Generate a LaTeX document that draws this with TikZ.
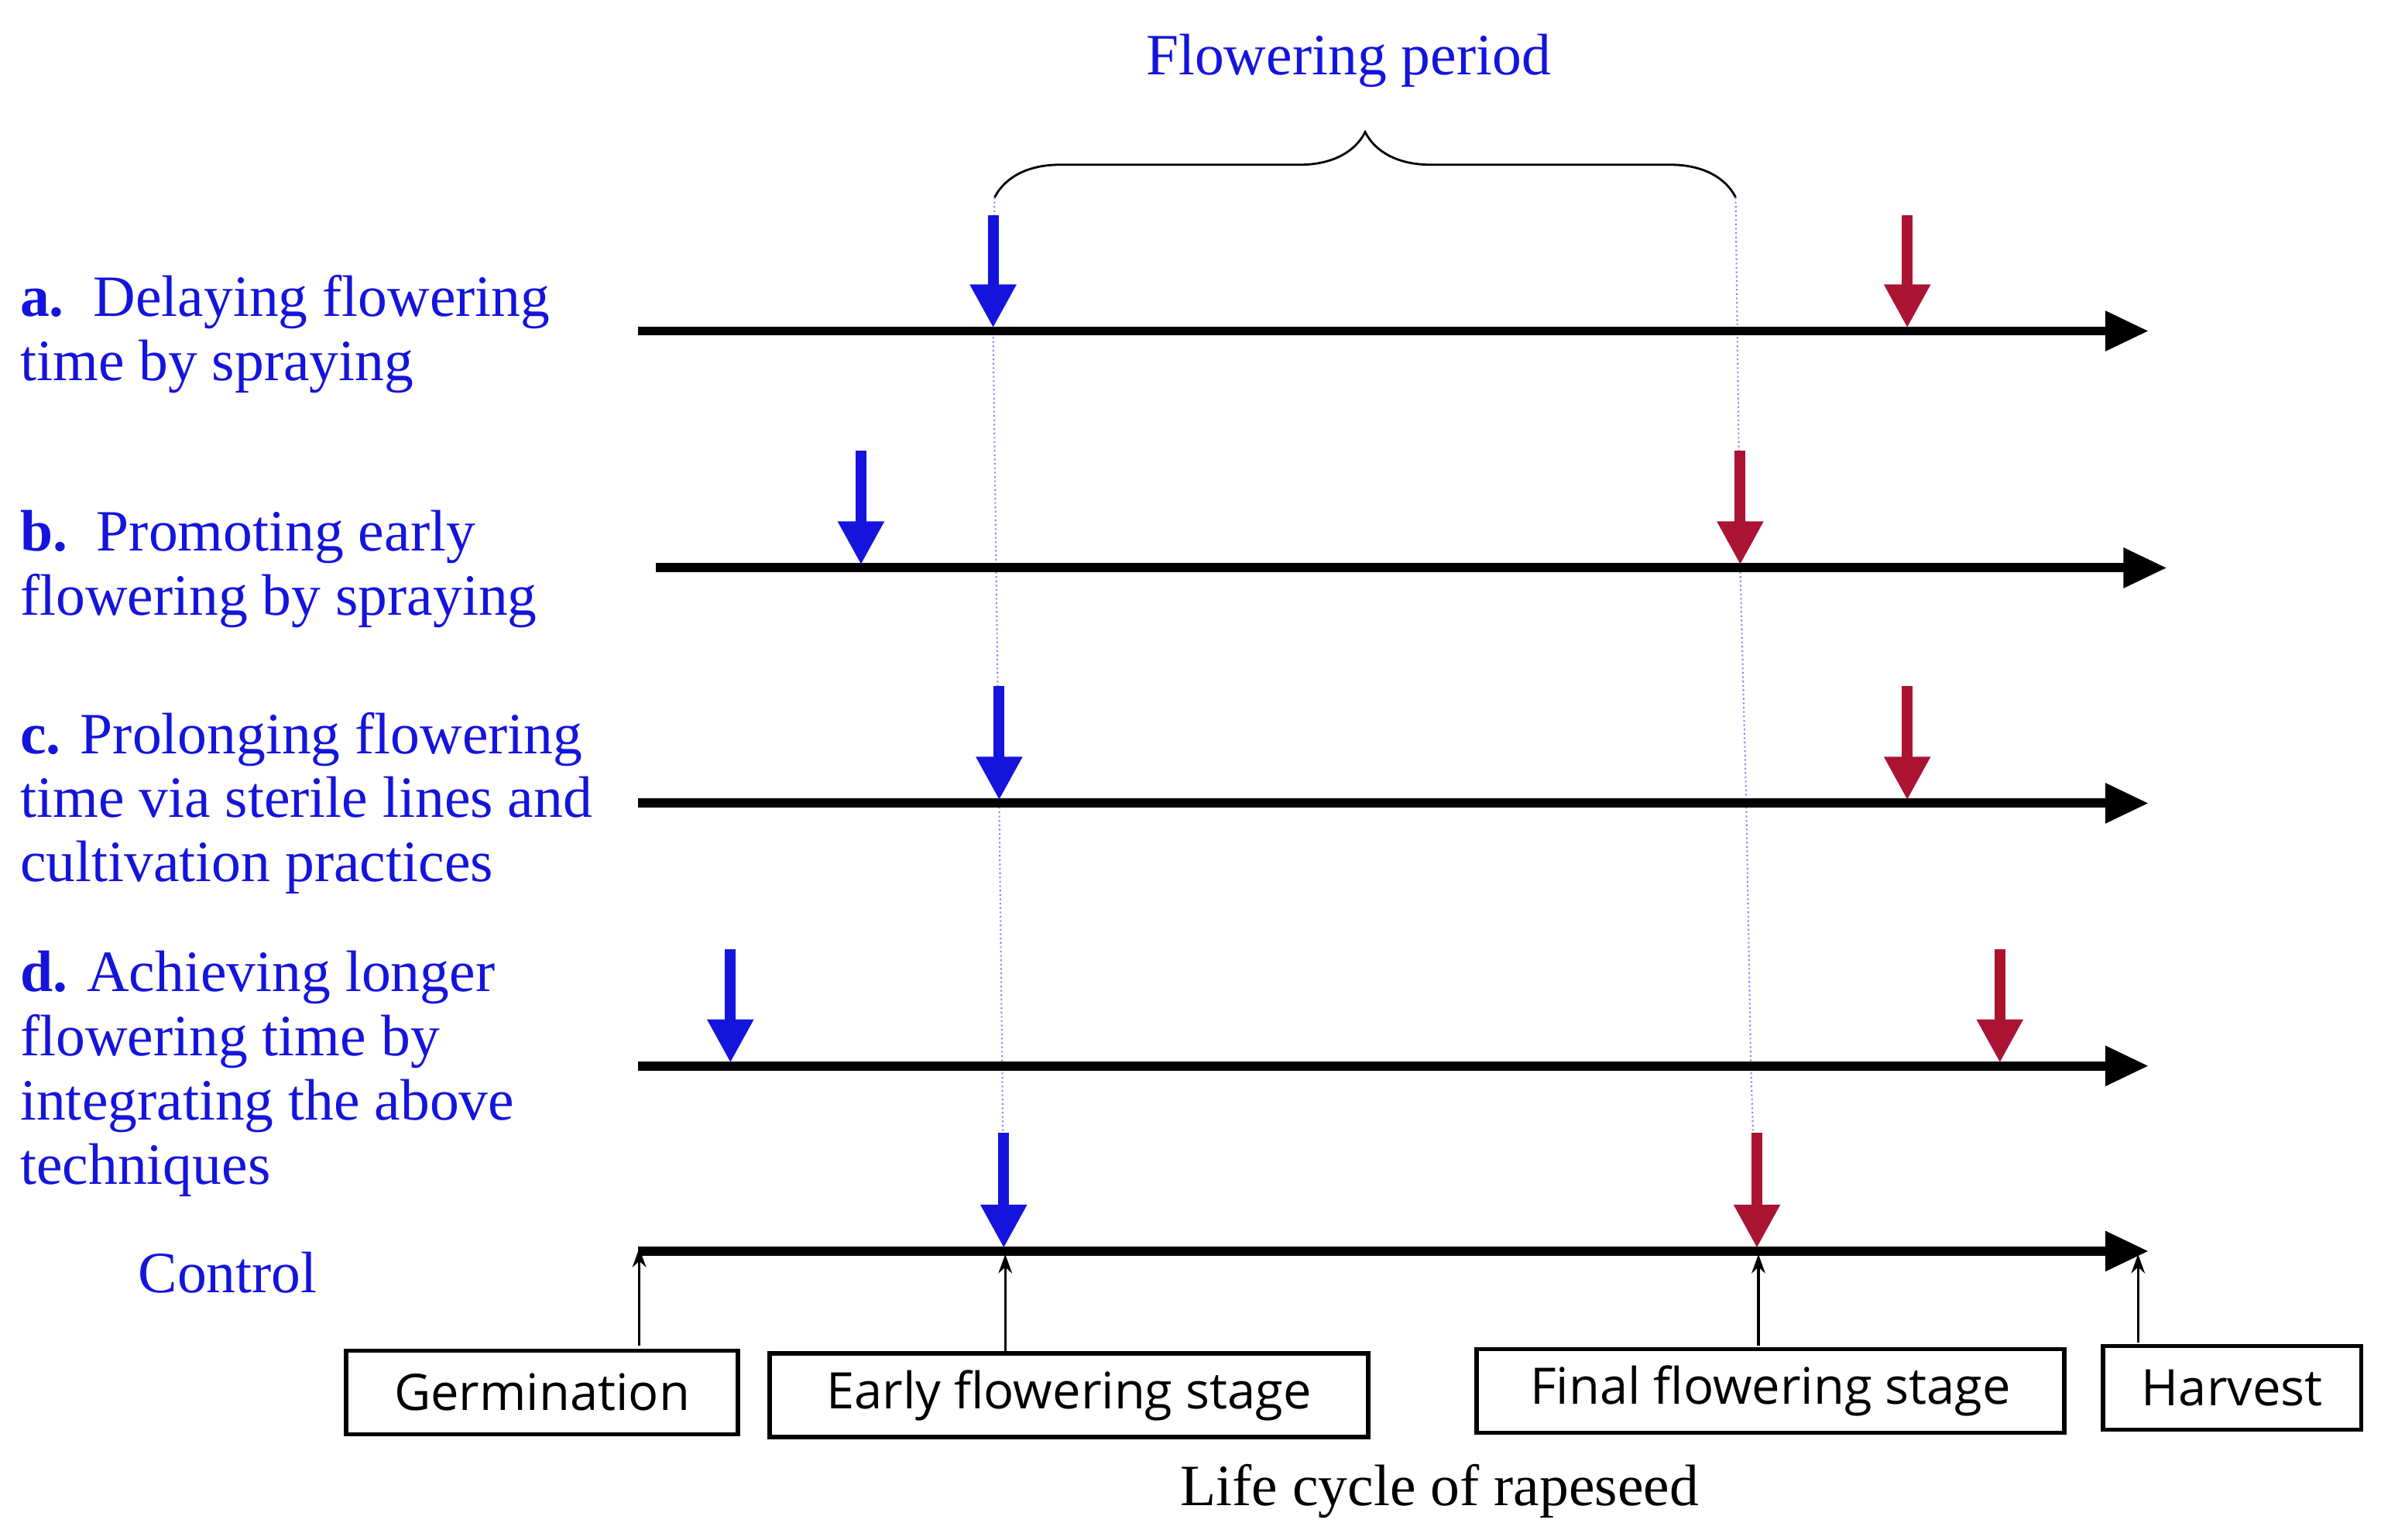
\documentclass[tikz,border=0pt]{standalone}
\usepackage{fontspec}
\setmainfont{Liberation Serif}
\newfontfamily\boxfont{Open Sans}
\usetikzlibrary{arrows.meta,decorations.pathreplacing}
\definecolor{lblue}{RGB}{20,20,220}
\definecolor{lred}{RGB}{170,20,50}
\begin{document}
\begin{tikzpicture}[x=0.01961cm,y=-0.01961cm,
  axis/.style={line width=3.4pt,-{Triangle[length=16pt,width=14pt]}},
  barb/.style={line width=4pt,-{Triangle[length=16pt,width=16pt]}},
  up/.style={line width=1pt,-{Stealth[length=7pt,width=5pt]}},
  guide/.style={lblue!50,line width=0.6pt,densely dotted},
  stage/.style={draw,line width=1.6pt,minimum height=1.08cm,font=\boxfont\fontsize{18.5}{22}\selectfont,inner sep=0pt},
  lab/.style={lblue,font=\fontsize{21.5}{23.6}\selectfont,align=left,anchor=west,inner sep=0pt}]
\useasboundingbox (0,0) rectangle (1568,1014);
\node[lblue,font=\fontsize{21.5}{24}\selectfont] (fp) at (888,40) {Flowering period};
\coordinate (bl) at (655,130); \coordinate (br) at (1143,130);
\draw[decorate,decoration={brace,amplitude=24pt},line width=0.8pt] (bl) -- (br);
% guides
\coordinate (g1) at (661,824); \coordinate (g2) at (1157,824);
\draw[guide] (bl) -- (654,218) -- (656,374) -- (658,529) -- (660,702) -- (g1);
\draw[guide] (br) -- (1146,374) -- (1150,529) -- (1153,702) -- (g2);
% axes
\foreach \n/\y/\a/\b in {A/218/420/1415,B/374/432/1427,C/529/420/1415,D/702/420/1415,E/824/420/1415}{
  \coordinate (\n s) at (\a,\y); \coordinate (\n e) at (\b,\y);
  \draw[axis] (\n s) -- (\n e);}
\foreach \x/\y/\t/\c in {654/218/142/lblue,1256/218/142/lred,567/374/297/lblue,1146/374/297/lred,658/529/452/lblue,1256/529/452/lred,481/702/625/lblue,1317/702/625/lred,661/824/746/lblue,1157/824/746/lred}{
  \draw[barb,\c] (\x,\t) -- (\x,\y-2);}
% stages
\node[stage,minimum width=258*0.01961cm] (g) at (357,917) {Germination};
\node[stage,minimum width=394*0.01961cm] (ef) at (704,919) {Early flowering stage};
\node[stage,minimum width=387*0.01961cm] (ff) at (1166,916) {Final flowering stage};
\node[stage,minimum width=170*0.01961cm] (h) at (1470,914) {Harvest};
\draw[up] (421,886) -- (421,822);
\draw[up] (662,890) -- (662,826);
\draw[up] (1158,886) -- (1158,826);
\draw[up] (1408,884) -- (1408,826);
\node[font=\fontsize{21.5}{24}\selectfont] (lc) at (948,982) {Life cycle of rapeseed};
% labels
\node[lab] (la) at (13,220) {\textbf{a.}\ \ Delaying flowering\\time by spraying};
\node[lab] (lb) at (13,375) {\textbf{b.}\ \ Promoting early\\flowering by spraying};
\node[lab] (lcc) at (13,529) {\textbf{c.} Prolonging flowering\\time via sterile lines and\\cultivation practices};
\node[lab] (ld) at (13,707) {\textbf{d.} Achieving longer\\flowering time by\\integrating the above\\techniques};
\node[lblue,font=\fontsize{21.5}{24}\selectfont] (ctl) at (150,838) {Control};
\end{tikzpicture}
\end{document}
